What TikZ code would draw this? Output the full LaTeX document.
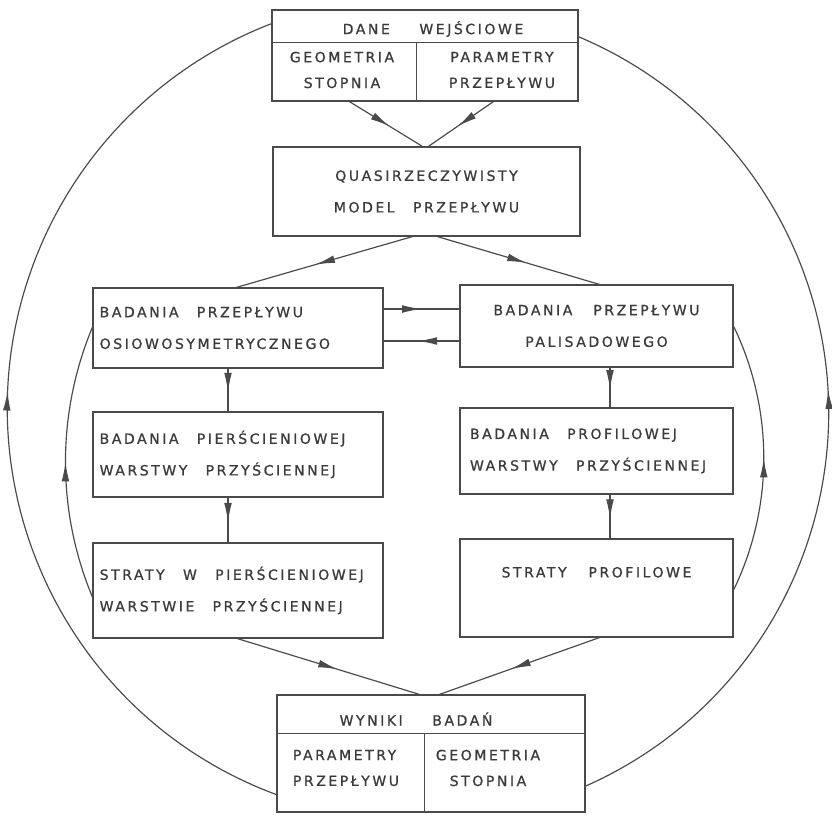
\documentclass[tikz,border=0pt]{standalone}
\usepackage{fontspec}
\setmainfont{DejaVu Sans}
\newfontfamily\lettering[LetterSpace=18,FakeBold=0.8]{DejaVu Sans}
\usetikzlibrary{arrows.meta,calc,decorations.markings}
\definecolor{ink}{HTML}{4A4A4A}
\tikzset{
  box/.style={draw=ink,line width=1pt,rectangle,inner xsep=0.2cm,inner ysep=0pt},
  txt/.style={text=ink!80!black,font=\lettering\fontsize{12}{27}\selectfont,
    execute at begin node={\spaceskip=1.3em plus 0.2em\relax}},
  head/.style={txt,execute at begin node={\spaceskip=2.1em\relax}},
  cell/.style={txt,align=center,font=\lettering\fontsize{12}{22}\selectfont},
  leftbox/.style={box,txt,minimum width=8.7cm,text width=8.3cm,align=left},
  rightbox/.style={box,txt,minimum width=8.19cm,text width=7.79cm,align=center},
  link/.style={draw=ink,line width=1pt},
  midarrow/.style={link,postaction={decorate},decoration={markings,mark=at position #1 with {\arrow{Latex[length=5.8mm,width=2.3mm]}}}},
  midarrow/.default=0.55
}

\begin{document}
\begin{tikzpicture}[x=0.03cm,y=-0.03cm]
\useasboundingbox[fill=white] (0,0) rectangle (832,816);

% input data
\node[box,minimum width=9.18cm,minimum height=2.73cm] (in) at (425,55.5) {};
\draw[link] ($(in.north west)+(0,33)$) -- ($(in.north east)+(0,33)$);
\draw[link] ($(in.north west)+(145,33)$) -- ($(in.south west)+(145,0)$);
\node[head] (inhead) at (433,29) {DANE WEJŚCIOWE};
\node[cell] (ingeom) at (342,70) {GEOMETRIA\\STOPNIA};
\node[cell] (inparam) at (502,70) {PARAMETRY\\PRZEPŁYWU};

% model
\node[box,txt,minimum width=9.21cm,minimum height=2.67cm,align=center] (model) at (426.5,191.5) {QUASIRZECZYWISTY\\MODEL PRZEPŁYWU};

% left column
\node[leftbox,minimum height=2.4cm] (axi) at (238,328) {BADANIA PRZEPŁYWU\\OSIOWOSYMETRYCZNEGO};
\node[leftbox,minimum height=2.55cm] (ringbl) at (238,454.5) {BADANIA PIERŚCIENIOWEJ\\WARSTWY PRZYŚCIENNEJ};
\node[leftbox,minimum height=2.85cm] (ringloss) at (238,590.5) {STRATY W PIERŚCIENIOWEJ\\WARSTWIE PRZYŚCIENNEJ};

% right column
\node[rightbox,minimum height=2.46cm] (cascade) at (596.5,326) {BADANIA PRZEPŁYWU\\PALISADOWEGO};
\node[rightbox,align=left,inner xsep=0.3cm,text width=7.59cm,minimum height=2.58cm] (profbl) at (596.5,451) {BADANIA PROFILOWEJ\\WARSTWY PRZYŚCIENNEJ};
\node[rightbox,minimum height=2.94cm] (profloss) at (596.5,588) {STRATY PROFILOWE\\\mbox{}};

% results
\node[box,minimum width=9.24cm,minimum height=3.51cm] (res) at (431,753.5) {};
\draw[link] ($(res.north west)+(0,39)$) -- ($(res.north east)+(0,39)$);
\draw[link] ($(res.north west)+(148,39)$) -- ($(res.south west)+(148,0)$);
\node[head] (reshead) at (416,719) {WYNIKI BADAŃ};
\node[cell,align=left] (resparam) at (346,768) {PARAMETRY\\PRZEPŁYWU};
\node[cell] (resgeom) at (488,768) {GEOMETRIA\\STOPNIA};

% flow between boxes
\draw[midarrow] ($(in.south west)+(78,0)$) -- ($(model.north west)+(150,0)$);
\draw[midarrow] ($(in.south west)+(222,0)$) -- ($(model.north west)+(156,0)$);
\draw[midarrow] ($(model.south west)+(140,0)$) -- ($(axi.north west)+(144,0)$);
\draw[midarrow] ($(model.south west)+(165,0)$) -- ($(cascade.north west)+(140,0)$);
\draw[midarrow=0.5] ($(axi.east)+(0,-19)$) -- ($(axi.east -| cascade.west)+(0,-19)$);
\draw[midarrow=0.55] ($(axi.east -| cascade.west)+(0,13)$) -- ($(axi.east)+(0,13)$);
\draw[midarrow=0.55] ($(axi.south)+(-10,0)$) -- ($(ringbl.north)+(-10,0)$);
\draw[midarrow=0.55] ($(ringbl.south)+(-10,0)$) -- ($(ringloss.north)+(-10,0)$);
\draw[midarrow=0.55] ($(cascade.south)+(13.5,0)$) -- ($(profbl.north)+(13.5,0)$);
\draw[midarrow=0.55] ($(profbl.south)+(13.5,0)$) -- ($(profloss.north)+(13.5,0)$);
\draw[midarrow] ($(ringloss.south west)+(145,0)$) -- ($(res.north west)+(143,0)$);
\draw[midarrow] ($(profloss.south west)+(140,0)$) -- ($(res.north west)+(163,0)$);

% feedback arcs
\draw[midarrow=0.52] ($(res.south west)+(0,-18)$) arc[start angle=110.3,end angle=248.9,radius=412];
\draw[midarrow=0.52] ($(res.south east)+(0,-26.5)$) arc[start angle=66.15,end angle=-67.37,radius=408];
\draw[midarrow=0.5] ($(ringloss.west)+(0,6.5)$) arc[start angle=157.4,end angle=202.6,radius=351];
\draw[midarrow=0.5] ($(profloss.east)+(0,2)$) arc[start angle=25.8,end angle=-25.8,radius=303];
\end{tikzpicture}
\end{document}
